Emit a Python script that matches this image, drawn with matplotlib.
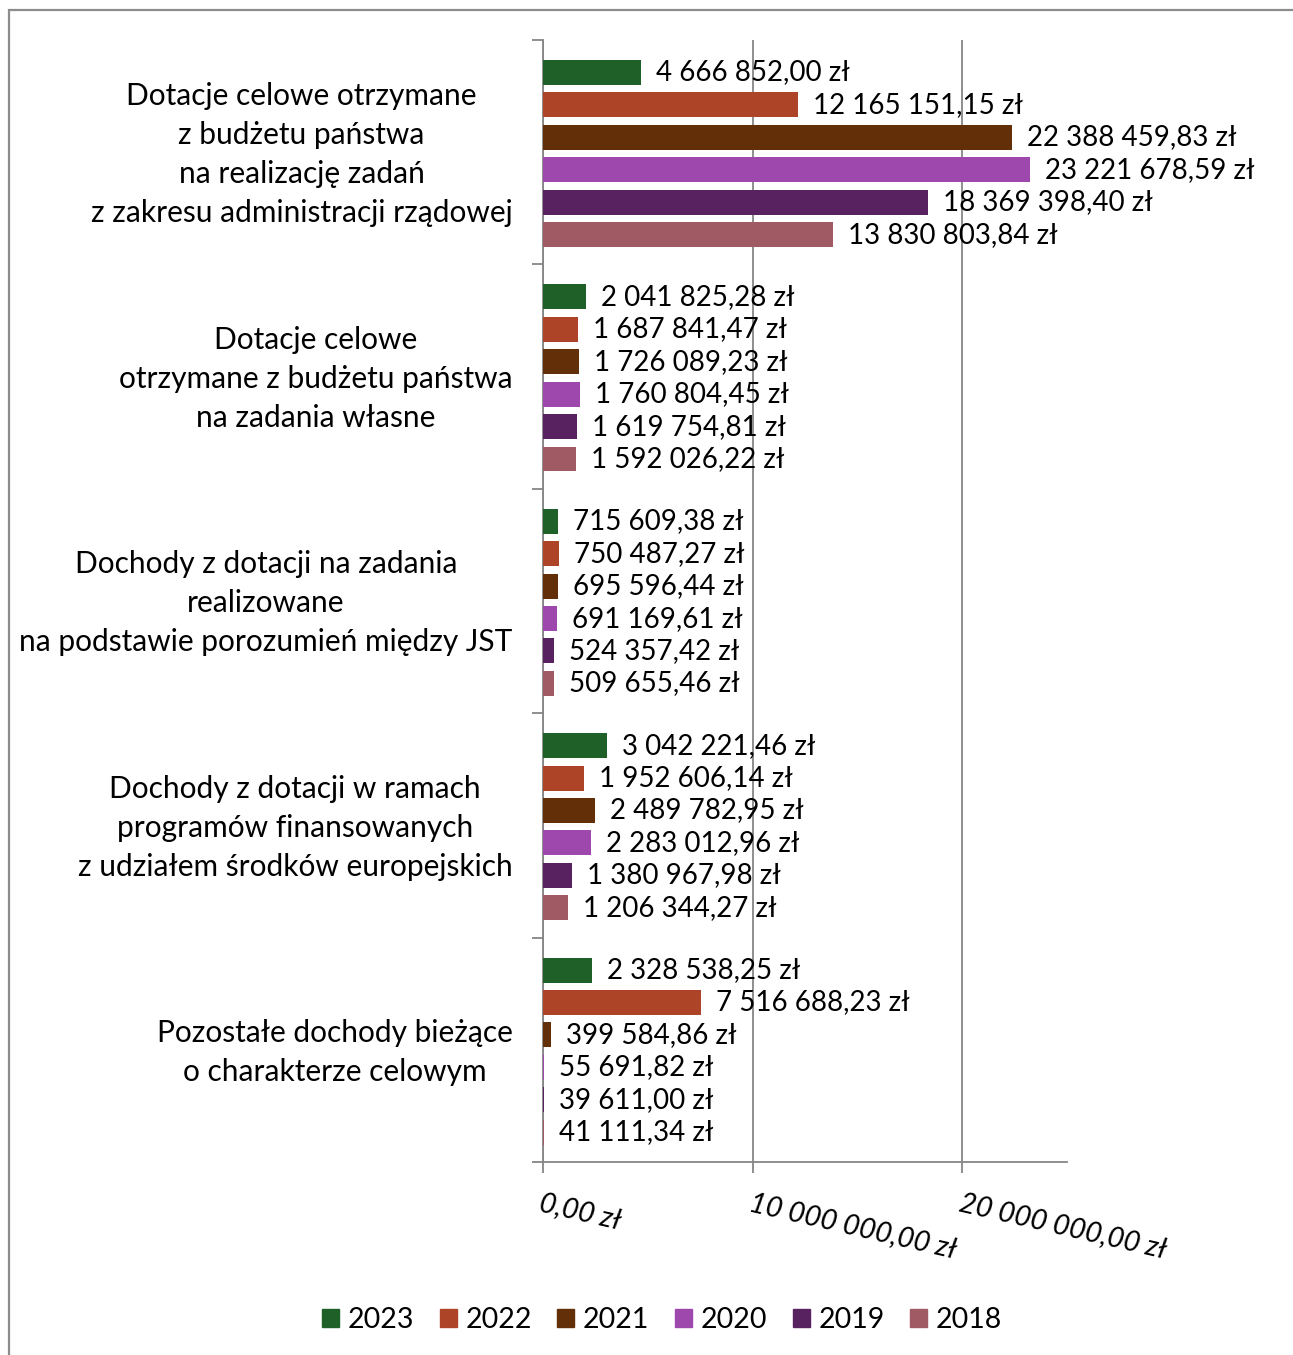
import matplotlib.pyplot as plt
import matplotlib.patches as mpatches
import numpy as np

plt.rcParams['font.family'] = ['Lato', 'DejaVu Sans']

categories = [
    "Dotacje celowe otrzymane\nz budżetu państwa\nna realizację zadań\nz zakresu administracji rządowej",
    "Dotacje celowe\notrzymane z budżetu państwa\nna zadania własne",
    "Dochody z dotacji na zadania\nrealizowane\nna podstawie porozumień między JST",
    "Dochody z dotacji w ramach\nprogramów finansowanych\nz udziałem środków europejskich",
    "Pozostałe dochody bieżące\no charakterze celowym",
]
years = ['2023', '2022', '2021', '2020', '2019', '2018']
colors = ['#1f5f28', '#ae4427', '#622f08', '#9e48ad', '#58215f', '#a05a63']

v2023 = [4666852.00, 2041825.28, 715609.38, 3042221.46, 2328538.25]
v2022 = [12165151.15, 1687841.47, 750487.27, 1952606.14, 7516688.23]
v2021 = [22388459.83, 1726089.23, 695596.44, 2489782.95, 399584.86]
v2020 = [23221678.59, 1760804.45, 691169.61, 2283012.96, 55691.82]
v2019 = [18369398.40, 1619754.81, 524357.42, 1380967.98, 39611.00]
v2018 = [13830803.84, 1592026.22, 509655.46, 1206344.27, 41111.34]
series = [v2023, v2022, v2021, v2020, v2019, v2018]

xticks = [0, 10000000, 20000000]


def pln(v):
    return f"{v:,.2f}".replace(',', ' ').replace('.', ',') + ' zł'


W, H = 1293, 1355
fig = plt.figure(figsize=(W / 100, H / 100), dpi=100)
ax = fig.add_axes([543 / W, 1 - 1162 / H, (1067 - 543) / W, (1162 - 40) / H])

n = len(categories)
step = 0.1444
start = 0.145
bh = 0.111
for k, (vals, col) in enumerate(zip(series, colors)):
    y = np.arange(n) + start + k * step
    ax.barh(y, vals, height=bh, color=col, zorder=3)
    for yy, v in zip(y, vals):
        ax.annotate(pln(v), (v, yy), xytext=(15, 0), textcoords='offset pixels',
                    va='center', ha='left', fontsize=20, color='black', zorder=4)

ax.set_ylim(n, 0)
ax.set_xlim(0, 25000000)

ax.set_yticks(np.arange(n) + 0.475)
ax.set_yticklabels(categories, fontsize=21.5, linespacing=1.48)
for lab in ax.get_yticklabels():
    lab.set_multialignment('center')
ax.set_yticks(np.arange(n + 1), minor=True)
ax.tick_params(axis='y', which='major', length=0, pad=22)
ax.tick_params(axis='y', which='minor', length=8, color='#868686', width=1.3)

ax.set_xticks(xticks)
ax.set_xticklabels([pln(t) for t in xticks], fontsize=20.5, style='italic',
                   rotation=-13, ha='left', va='top', rotation_mode='anchor')
ax.tick_params(axis='x', length=8, color='#868686', width=1.3, pad=12)

ax.grid(axis='x', color='#868686', linewidth=1.3, zorder=0)
for s in ['top', 'right']:
    ax.spines[s].set_visible(False)
for s in ['left', 'bottom']:
    ax.spines[s].set_color('#868686')
    ax.spines[s].set_linewidth(1.3)

handles = [mpatches.Patch(color=c, label=y) for y, c in zip(years, colors)]
fig.legend(handles=handles, loc='center', bbox_to_anchor=(662 / W, 1 - 1320 / H),
           ncol=6, frameon=False, fontsize=20.5, handlelength=0.6, handleheight=0.6,
           handletextpad=0.3, columnspacing=0.9)

frame = mpatches.Rectangle((9 / W, -0.1), 2, 1.1 - 10 / H, transform=fig.transFigure,
                           fill=False, edgecolor='#8c8c8c', linewidth=1.6)
fig.patches.append(frame)

fig.savefig('out.png', dpi=100)
